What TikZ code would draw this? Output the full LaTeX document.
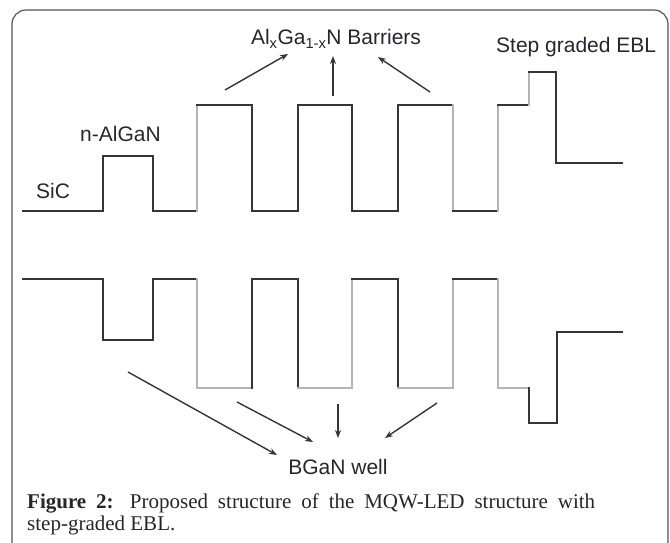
\documentclass[tikz,border=0pt]{standalone}
\usepackage{fontspec}
\setmainfont{Liberation Serif}
\setsansfont{Liberation Sans}
\usetikzlibrary{arrows.meta}
\definecolor{ink}{HTML}{26262E}
\definecolor{dk}{HTML}{353535}
\definecolor{lt}{HTML}{B4B4B4}
\definecolor{framec}{HTML}{555555}
\begin{document}
\begin{tikzpicture}[x=1pt,y=-1pt,
  band/.style={draw=dk,line width=2pt,line join=miter,line cap=rect},
  bandlt/.style={draw=lt,line width=2pt,line cap=rect},
  lbl/.style={font=\sffamily\fontsize{21}{25}\selectfont,text=ink,inner sep=0pt},
  pointer/.style={draw=dk,line width=1.4pt,-{Stealth[length=8pt,width=6pt]}}]
\useasboundingbox (0,0) rectangle (670,543);
\clip (0,0) rectangle (670,543);
\draw[framec,line width=1.2pt,rounded corners=14pt] (12,10) rectangle (668,558);

% conduction band (upper)
\draw[band] (23,211) -- (103,211) -- (103,156) -- (153,156) -- (153,211) -- (197,211);
\draw[bandlt] (197,211) -- (197,105);
\draw[band] (197,105) -- (252,105) -- (252,211) -- (298,211) -- (298,105) -- (352,105) -- (352,211) -- (398,211) -- (398,105) -- (453,105);
\draw[bandlt] (453,105) -- (453,211);
\draw[band] (453,211) -- (498,211);
\draw[bandlt] (498,211) -- (498,105);
\draw[band] (498,105) -- (529,105);
\draw[bandlt] (529,105) -- (529,72);
\draw[band] (529,72) -- (556,72) -- (556,163) -- (622,163);

% valence band (lower)
\draw[band] (23,279) -- (103,279) -- (103,340) -- (153,340) -- (153,279) -- (197,279);
\draw[bandlt] (197,279) -- (197,388) -- (252,388);
\draw[band] (252,388) -- (252,279) -- (298,279) -- (298,388);
\draw[bandlt] (298,388) -- (352,388) -- (352,279);
\draw[band] (352,279) -- (398,279) -- (398,388);
\draw[bandlt] (398,388) -- (453,388) -- (453,279);
\draw[band] (453,279) -- (498,279);
\draw[bandlt] (498,279) -- (498,388) -- (529,388);
\draw[band] (529,388) -- (529,423) -- (557,423) -- (557,332) -- (622,332);

% labels
\node[lbl,anchor=base west] (sic) at (36,198) {SiC};
\node[lbl,anchor=base west] (nal) at (80,142) {n-AlGaN};
\node[lbl,anchor=base] (bar) at (336,45) {Al\textsubscript{x}Ga\textsubscript{1-x}N Barriers};
\node[lbl,anchor=base west] (ebl) at (496,53) {Step graded EBL};
\node[lbl,anchor=base] (well) at (338,474) {BGaN well};

% pointers to barriers
\coordinate (b1s) at (225,90);  \coordinate (b1e) at (288,54);
\coordinate (b2s) at (333,96);  \coordinate (b2e) at (333,56);
\coordinate (b3s) at (430,92);  \coordinate (b3e) at (378,57);
\draw[pointer] (b1s) -- (b1e);
\draw[pointer] (b2s) -- (b2e);
\draw[pointer] (b3s) -- (b3e);

% pointers to wells
\coordinate (w1s) at (128,372); \coordinate (w1e) at (277,455);
\coordinate (w2s) at (237,402); \coordinate (w2e) at (313,442);
\coordinate (w3s) at (338,404); \coordinate (w3e) at (338,438);
\coordinate (w4s) at (437,403); \coordinate (w4e) at (385,438);
\draw[pointer] (w1s) -- (w1e);
\draw[pointer] (w2s) -- (w2e);
\draw[pointer] (w3s) -- (w3e);
\draw[pointer] (w4s) -- (w4e);

% caption
\node[anchor=north west,inner sep=0pt,text width=568pt,align=justify,
      font=\fontsize{21}{22}\selectfont,text=black!85] (cap) at (27,494)
  {\textbf{Figure 2:} Proposed structure of the MQW-LED structure with\linebreak step-graded EBL.};
\end{tikzpicture}
\end{document}
